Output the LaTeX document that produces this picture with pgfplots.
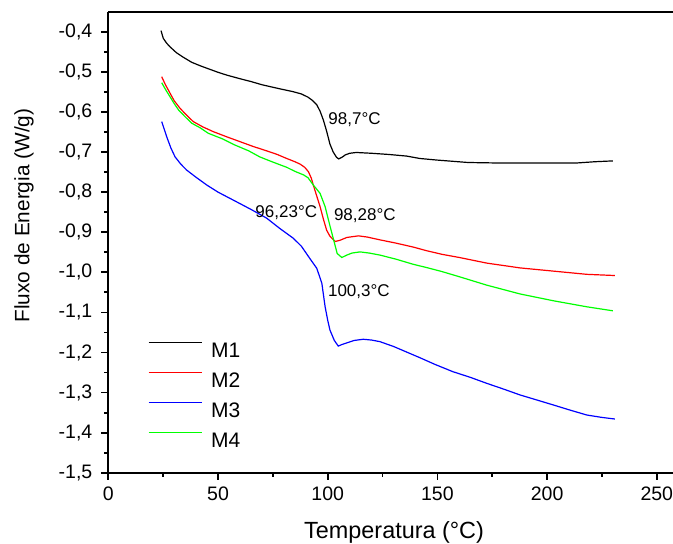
\documentclass[border=0pt]{standalone}
\usepackage{fontspec}
\setmainfont{Liberation Sans}
\usepackage{pgfplots}
\pgfplotsset{compat=1.18}

\definecolor{cM1}{RGB}{0,0,0}
\definecolor{cM2}{RGB}{255,0,0}
\definecolor{cM3}{RGB}{0,0,255}
\definecolor{cM4}{RGB}{0,255,0}

\begin{document}
\begin{tikzpicture}
\begin{axis}[
    name=ax, at={(0,0)}, anchor=south west,
    scale only axis, width=282.3pt, height=230.46pt,
    xmin=0, xmax=257.4,
    ymin=-1.5, ymax=-0.35,
    axis lines*=left,
    axis line style={line width=0.9pt, -},
    tick align=outside,
    tick style={line width=0.9pt, black},
    major tick length=3.5pt, minor tick length=2pt,
    xtick={0,50,100,150,200,250}, minor x tick num=1,
    ytick={-1.5,-1.4,-1.3,-1.2,-1.1,-1.0,-0.9,-0.8,-0.7,-0.6,-0.5,-0.4},
    minor y tick num=1,
    ticklabel style={font=\fontsize{9.75}{11}\selectfont},
    xticklabel style={/pgf/number format/assume math mode=true},
    yticklabel style={xshift=-1pt, /pgf/number format/.cd, fixed, fixed zerofill,
        precision=1, use comma, assume math mode=true},
    xlabel={Temperatura (°C)},
    ylabel={Fluxo de Energia (W/g)},
    every axis x label/.style={at={(axis description cs:0.506,0)}, anchor=base,
        yshift=-32.8pt, font=\fontsize{11.7}{13}\selectfont},
    every axis y label/.style={at={(axis description cs:-0.1495,0.558)}, anchor=center,
        rotate=90, font=\fontsize{10.4}{12}\selectfont},
    legend style={at={(rel axis cs:0.0701,0.284)}, anchor=north west,
        draw=none, fill=none, inner sep=0pt, outer sep=0pt,
        font=\fontsize{10.5}{12}\selectfont,
        row sep=7.25pt, column sep=4.15pt,
        nodes={inner sep=0pt, outer sep=0pt, text height=7.5pt, text depth=0pt}},
    legend cell align=left,
    legend image code/.code={\draw[#1] (0pt,3.75pt) -- (26.85pt,3.75pt);},
    every axis plot/.append style={line width=0.6pt},
]

% M1
\addplot[color=cM1] coordinates {
(24,-0.397) (25,-0.416) (26.5,-0.428) (28,-0.437) (31,-0.452) (34,-0.463)
(38,-0.476) (42,-0.485) (45,-0.491) (50,-0.501) (54,-0.508) (60,-0.517)
(65,-0.524) (70,-0.532) (78,-0.542) (84,-0.549) (88,-0.555) (91,-0.563)
(93,-0.571) (95,-0.582) (96.5,-0.598) (98,-0.620) (99.5,-0.648) (101,-0.680)
(102.5,-0.700) (104,-0.713) (105,-0.717) (106.5,-0.713) (108,-0.707)
(110,-0.703) (113,-0.701) (120,-0.703) (128,-0.706) (136,-0.710) (142,-0.716)
(150,-0.720) (157,-0.723) (164,-0.726) (175,-0.727) (190,-0.727) (205,-0.727)
(214,-0.727) (222,-0.724) (230,-0.722)
};
\addlegendentry{M1}

% M2
\addplot[color=cM2] coordinates {
(24.3,-0.512) (26,-0.532) (28.1,-0.553) (30,-0.572) (32.7,-0.591) (35.5,-0.607)
(38.7,-0.624) (43,-0.637) (47.8,-0.649) (54,-0.662) (60,-0.674) (66,-0.686)
(72.2,-0.697) (77,-0.706) (81.3,-0.716) (85,-0.724) (87.4,-0.730) (89.5,-0.738)
(91.2,-0.749) (92.5,-0.765) (93.4,-0.782) (95,-0.810) (96.5,-0.836) (98,-0.867)
(99.5,-0.895) (101,-0.910) (102.6,-0.919) (103.5,-0.923) (105.6,-0.920)
(108.7,-0.913) (114,-0.909) (118,-0.912) (123.8,-0.919) (131,-0.927)
(139,-0.937) (145,-0.946) (152,-0.955) (160,-0.963) (172.5,-0.977)
(187.7,-0.989) (202.9,-0.997) (218.1,-1.005) (230.9,-1.008)
};
\addlegendentry{M2}

% M3
\addplot[color=cM3] coordinates {
(24.3,-0.624) (26.6,-0.662) (28.5,-0.690) (30.4,-0.712) (33,-0.730)
(35.7,-0.745) (40,-0.763) (44.8,-0.782) (50,-0.800) (57,-0.820) (65,-0.843)
(72.2,-0.865) (78,-0.890) (84.3,-0.915) (88,-0.935) (91.9,-0.966) (95,-0.990)
(97.3,-1.027) (98.8,-1.086) (100,-1.120) (101,-1.144) (103,-1.170)
(104.8,-1.184) (106.5,-1.180) (108.7,-1.176) (112,-1.170) (116.2,-1.167)
(120,-1.169) (123.8,-1.173) (130,-1.185) (139,-1.206) (142,-1.213)
(149,-1.230) (157.1,-1.248) (165,-1.262) (172.5,-1.277) (180,-1.291)
(187.7,-1.306) (195,-1.318) (202.9,-1.331) (210,-1.343) (218.1,-1.356)
(225,-1.362) (230.9,-1.366)
};
\addlegendentry{M3}

% M4
\addplot[color=cM4] coordinates {
(24.3,-0.527) (26.5,-0.548) (28.1,-0.562) (30,-0.579) (32,-0.595) (35,-0.612)
(38,-0.628) (42,-0.640) (45.5,-0.653) (52,-0.667) (57.5,-0.682) (64,-0.697)
(69,-0.712) (75,-0.725) (81.3,-0.738) (85,-0.748) (89,-0.757) (91,-0.764)
(93.4,-0.782) (96.5,-0.803) (98.8,-0.836) (101.1,-0.886) (103.3,-0.932)
(104.3,-0.953) (106.4,-0.963) (108.7,-0.957) (111,-0.952) (114.7,-0.949)
(119,-0.952) (123.8,-0.957) (131,-0.967) (139,-0.980) (145,-0.988)
(152,-0.998) (160,-1.011) (172.5,-1.032) (187.7,-1.054) (202.9,-1.071)
(218.1,-1.086) (230,-1.096)
};
\addlegendentry{M4}

\node[anchor=base, font=\fontsize{8.5}{10}\selectfont] at (axis cs:112.2,-0.631) {98,7°C};
\node[anchor=base, font=\fontsize{8.5}{10}\selectfont] at (axis cs:81.1,-0.862) {96,23°C};
\node[anchor=base, font=\fontsize{8.5}{10}\selectfont] at (axis cs:116.9,-0.870) {98,28°C};
\node[anchor=base, font=\fontsize{8.5}{10}\selectfont] at (axis cs:114.2,-1.061) {100,3°C};
\end{axis}
\draw[line width=0.9pt] (ax.north west) -- (ax.north east);
\pgfresetboundingbox
\path (-54.2pt,-35.15pt) rectangle (282.3pt,236.36pt);
\end{tikzpicture}
\end{document}
